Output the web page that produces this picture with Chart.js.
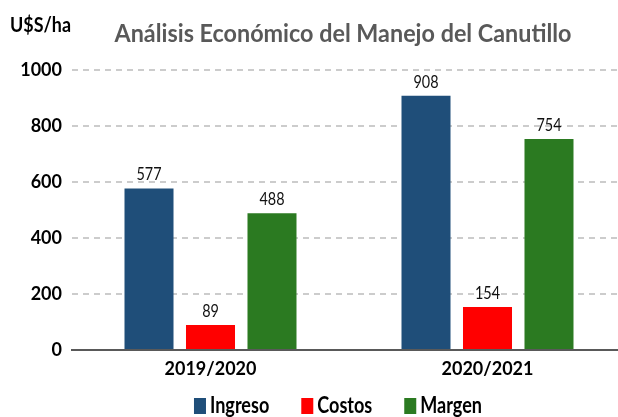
<!DOCTYPE html>
<html>
<head>
<meta charset="utf-8">
<script src="https://cdn.jsdelivr.net/npm/chart.js@4.4.1/dist/chart.umd.min.js"></script>
<style>
html,body{margin:0;padding:0;background:#fff;overflow:hidden;width:618px;height:417px;}
canvas{display:block;}
</style>
</head>
<body>
<canvas id="c" width="626" height="417"></canvas>
<script>
const categories = ['2019/2020', '2020/2021'];
const seriesNames = ['Ingreso', 'Costos', 'Margen'];
const ingreso = [577, 908];
const costos = [89, 154];
const margen = [488, 754];
const yTickValues = [0, 200, 400, 600, 800, 1000];
const titleText = 'Análisis Económico del Manejo del Canutillo';
const unitText = 'U$S/ha';
const colors = ['#1F4E79', '#FF0000', '#2B7A21'];

const FONT = 'Lato';
const SQ = 0.8;

function drawSq(ctx, text, x, y, align, font, color, sx) {
  ctx.save();
  ctx.font = font;
  ctx.fillStyle = color;
  ctx.textBaseline = 'alphabetic';
  ctx.translate(x, y);
  ctx.scale(sx, 1);
  ctx.textAlign = align;
  ctx.fillText(text, 0, 0);
  ctx.restore();
}

const textPlugin = {
  id: 'texts',
  afterDraw(chart) {
    const ctx = chart.ctx;
    ctx.save();
    ctx.font = 'bold 24px ' + FONT;
    const tw = ctx.measureText(titleText).width;
    ctx.restore();
    drawSq(ctx, titleText, 343, 42, 'center', 'bold 24px ' + FONT, '#595959', 457 / tw);
    ctx.save();
    ctx.font = 'bold 20px ' + FONT;
    const uw = ctx.measureText(unitText).width;
    ctx.restore();
    drawSq(ctx, unitText, 10, 32, 'left', 'bold 20px ' + FONT, '#000', 61 / uw);
    chart.data.datasets.forEach((ds, i) => {
      const meta = chart.getDatasetMeta(i);
      meta.data.forEach((bar, j) => {
        drawSq(ctx, String(ds.data[j]), bar.x, bar.y - 8, 'center', '18px ' + FONT, '#111', SQ);
      });
    });
    const lf = 'bold 22px ' + FONT;
    ctx.save();
    ctx.font = lf;
    const items = chart.data.datasets.map(ds => ({
      text: ds.label, color: ds.backgroundColor, w: ctx.measureText(ds.label).width * 0.82
    }));
    ctx.restore();
    const boxW = 12, boxH = 16, gapT = 4, gapI = 32;
    let total = 0;
    items.forEach((it, k) => { total += boxW + gapT + it.w + (k < items.length - 1 ? gapI : 0); });
    let x = 338 - total / 2;
    items.forEach(it => {
      ctx.fillStyle = it.color;
      ctx.fillRect(x, 398, boxW, boxH);
      drawSq(ctx, it.text, x + boxW + gapT, 413, 'left', lf, '#000', 0.82);
      x += boxW + gapT + it.w + gapI;
    });
  }
};

new Chart(document.getElementById('c'), {
  type: 'bar',
  data: {
    labels: categories,
    datasets: [
      { label: seriesNames[0], data: ingreso, backgroundColor: colors[0] },
      { label: seriesNames[1], data: costos, backgroundColor: colors[1] },
      { label: seriesNames[2], data: margen, backgroundColor: colors[2] }
    ].map(d => Object.assign(d, { categoryPercentage: 0.666, barPercentage: 0.797, borderWidth: 0 }))
  },
  options: {
    responsive: false,
    animation: false,
    devicePixelRatio: 1,
    layout: { padding: { top: 70, right: 0, bottom: 0, left: 0 } },
    plugins: { legend: { display: false }, title: { display: false }, tooltip: { enabled: false } },
    scales: {
      x: {
        grid: { display: false, drawTicks: false },
        border: { display: true, color: '#595959', width: 2 },
        ticks: { font: { family: FONT, weight: 'bold', size: 18 }, color: '#000', padding: 8 },
        afterFit(s) { s.height = 67; }
      },
      y: {
        min: 0, max: 1000,
        afterBuildTicks(s) { s.ticks = yTickValues.map(v => ({ value: v })); },
        grid: {
          color: c => (c.tick && c.tick.value === 0) ? 'rgba(0,0,0,0)' : '#CCCCCC',
          lineWidth: 2, drawTicks: false
        },
        border: { display: false, dash: [6, 5] },
        ticks: {
          font: { family: FONT, weight: 'bold', size: 18 }, color: '#000', padding: 10,
          callback: v => String(v)
        },
        afterFit(s) { s.width = 72; }
      }
    }
  },
  plugins: [textPlugin]
});
</script>
</body>
</html>
